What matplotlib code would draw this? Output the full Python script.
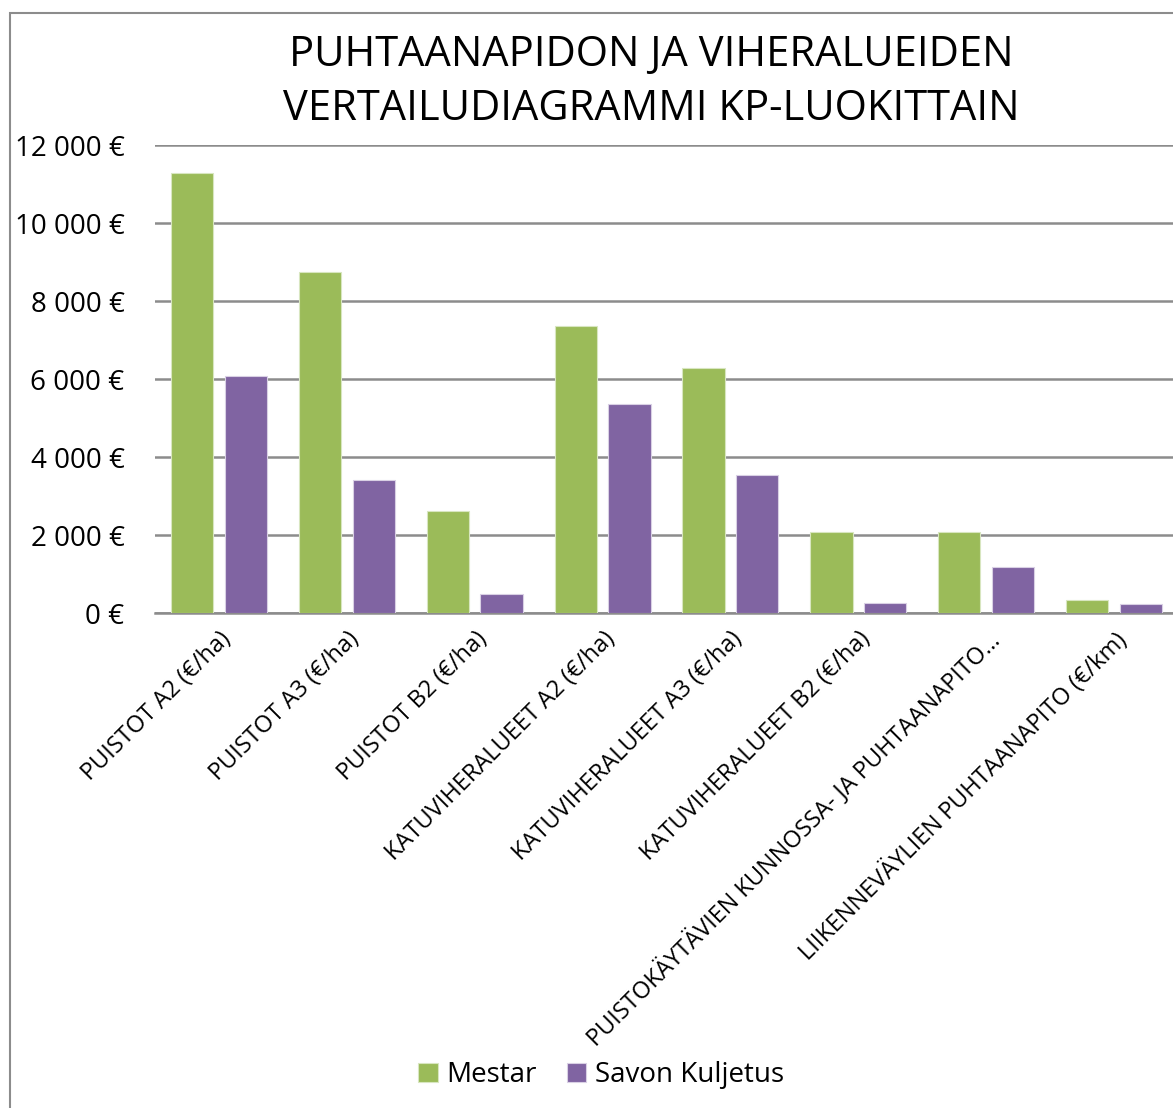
import matplotlib.pyplot as plt
import numpy as np
from matplotlib.patches import Rectangle
from matplotlib.ticker import FuncFormatter

plt.rcParams['font.family'] = ['Open Sans', 'DejaVu Sans']

categories = [
    'PUISTOT A2 (€/ha)',
    'PUISTOT A3 (€/ha)',
    'PUISTOT B2 (€/ha)',
    'KATUVIHERALUEET A2 (€/ha)',
    'KATUVIHERALUEET A3 (€/ha)',
    'KATUVIHERALUEET B2 (€/ha)',
    'PUISTOKÄYTÄVIEN KUNNOSSA- JA PUHTAANAPITO…',
    'LIIKENNEVÄYLIEN PUHTAANAPITO (€/km)',
]
mestar = [11280, 8740, 2620, 7360, 6280, 2080, 2080, 330]
savon = [6080, 3410, 490, 5360, 3540, 260, 1180, 230]

green = '#9BBB59'
purple = '#8064A2'
grid_color = '#8C8C8C'

fig = plt.figure(figsize=(11.73, 11.08), dpi=100)
W, H = 1173, 1108

# chart frame (left and top edges visible, rest cut off)
fig.patches.append(Rectangle((10 / W, -0.1), 1.2, 1 - 13 / H + 0.1,
                             transform=fig.transFigure, fill=False,
                             edgecolor='#8C8C8C', linewidth=1.5))

ax = fig.add_axes([155 / W, 1 - 613 / H, (1178 - 155) / W, (613 - 145) / H])

x = np.arange(len(categories))
bw = 0.33
off = 0.21
ax.bar(x - off, mestar, bw, color=green, edgecolor='#D8E6C0', linewidth=0.8, zorder=3, label='Mestar')
ax.bar(x + off, savon, bw, color=purple, edgecolor='#D9D0E4', linewidth=0.8, zorder=3, label='Savon Kuljetus')

ax.set_xlim(-0.5, len(categories) - 0.5)
ax.set_ylim(0, 12000)
ax.set_yticks(range(0, 12001, 2000))
ax.yaxis.set_major_formatter(FuncFormatter(lambda v, p: f'{int(v):,} €'.replace(',', ' ')))
ax.grid(axis='y', color=grid_color, linewidth=1.8, zorder=0)
for s in ['top', 'right', 'left']:
    ax.spines[s].set_visible(False)
ax.spines['bottom'].set_color(grid_color)
ax.spines['bottom'].set_linewidth(1.8)
ax.tick_params(axis='y', length=0, labelsize=20, pad=22)
ax.tick_params(axis='x', length=0, pad=10)
ax.set_xticks(x)
ax.set_xticklabels(categories, rotation=45, ha='right', rotation_mode='anchor', fontsize=17)

fig.text(0.555, 1 - 82 / H, 'PUHTAANAPIDON JA VIHERALUEIDEN\nVERTAILUDIAGRAMMI KP-LUOKITTAIN',
         ha='center', va='center', fontsize=30, linespacing=1.4)

fig.legend(loc='center', bbox_to_anchor=(601 / W, 1 - 1075 / H), ncol=2, frameon=False,
           fontsize=20, handlelength=0.7, handleheight=0.7, handletextpad=0.3, columnspacing=1.1)

fig.savefig('out.png', dpi=100)
